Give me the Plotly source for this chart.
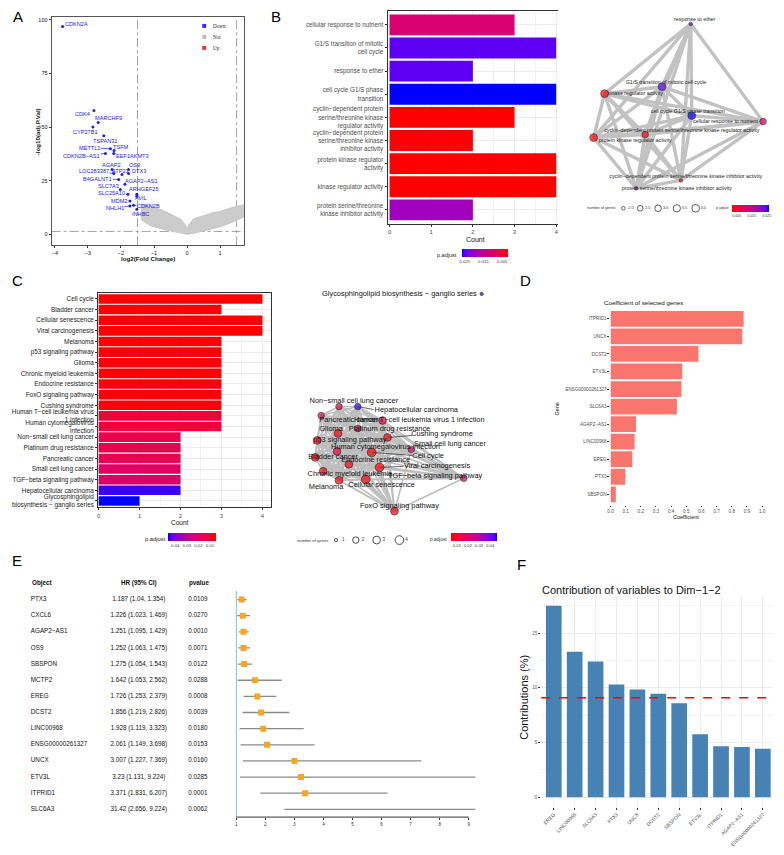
import plotly.graph_objects as go
import math

W, H = 784, 855
OFF = 8                      # page body margin of the browser
FW, FH = W - 2 * OFF, H - 2 * OFF
FONT = "Liberation Sans, Arial, sans-serif"
SERIF = "Liberation Serif, Times New Roman, serif"

# ---------------- Panel A : volcano ----------------
down_genes = ["CDKN2A", "CDK4", "MARCHF9", "CYP27B1", "TSPAN31", "METTL1", "TSFM", "CDKN2B−AS1",
              "EEF1AKMT3", "AGAP2", "OS9", "LOC283387", "ATP23", "DTX3", "B4GALNT1", "AGAP2−AS1",
              "SLC7A3", "ARHGEF25", "SLC25A10", "AVIL", "MDM2", "NHLH1", "CDKN2B", "INHBC"]
down_lfc = [-3.77, -2.82, -2.69, -2.85, -2.52, -2.32, -2.21, -2.47, -2.22, -2.27, -1.77, -2.22,
            -1.97, -1.77, -2.07, -1.88, -2.02, -1.52, -1.79, -1.52, -1.73, -1.73, -1.62, -1.52]
down_logp = [96.9, 57.8, 52.2, 50.1, 46.0, 39.9, 39.1, 37.7, 37.7, 30.2, 30.2, 28.4, 27.9, 28.4,
             25.6, 23.3, 20.9, 18.6, 18.6, 17.7, 15.5, 13.2, 13.5, 11.6]
# outline of the dense cloud of non-significant genes
not_lfc = [-1.4, -1.2, -1.0, -0.8, -0.6, -0.4, -0.2, -0.05, 0.0, 0.05, 0.2, 0.4, 0.6, 0.8, 1.0, 1.2, 1.4, 1.7,
           1.7, 1.4, 1.1, 0.8, 0.5, 0.2, 0.0, -0.2, -0.5, -0.8, -1.1, -1.4]
not_logp = [14, 13.5, 12.5, 11.5, 10, 8.5, 7, 4, 2, 4, 7, 8, 9, 10, 10.5, 11.5, 12.5, 13.5,
            8, 6, 4, 2.8, 1.6, 0.6, 0.1, 0.6, 1.6, 2.8, 4, 7]
fc_cut = 1.5
p_cut = 1.3
# label offsets (pixels) for the repelled labels
lab_dx = [14, -11, 10, -7, 1, -21, 7, -24, 19, -1, 6, -20, -1, 10, -21, 17, -12, 7, -16, 4, -11, -15, 15, 4]
lab_dy = [-3, 4, -4, 5, 5, -1, -3, 3, 3, -5, -5, -2, -3, -2, 0, -3, -3, -5, -1, 2, 0, 2, 1, 5]

# ---------------- Panel B : GO enrichment ----------------
go_terms = ["cellular response to nutrient",
            "G1/S transition of mitotic cell cycle",
            "response to ether",
            "cell cycle G1/S phase transition",
            "cyclin−dependent protein serine/threonine kinase regulator activity",
            "cyclin−dependent protein serine/threonine kinase inhibitor activity",
            "protein kinase regulator activity",
            "kinase regulator activity",
            "protein serine/threonine kinase inhibitor activity"]
go_tick_labels = ["cellular response to nutrient",
                  "G1/S transition of mitotic<br>cell cycle",
                  "response to ether",
                  "cell cycle G1/S phase<br>transition",
                  "cyclin−dependent protein<br>serine/threonine kinase<br>regulator activity",
                  "cyclin−dependent protein<br>serine/threonine kinase<br>inhibitor activity",
                  "protein kinase regulator<br>activity",
                  "kinase regulator activity",
                  "protein serine/threonine<br>kinase inhibitor activity"]
go_count = [3, 4, 2, 4, 3, 2, 4, 4, 2]
go_padj = [0.0115, 0.0249, 0.0249, 0.0266, 0.0021, 0.0022, 0.0020, 0.0020, 0.0197]
go_pmin, go_pmax = 0.0020, 0.0266
# network layout (pixel-like layout units)
go_node_x = [767, 665, 694, 695, 648, 684, 596, 607, 639]
go_node_y = [122, 87, 24, 116, 135, 181, 138, 94, 189]
go_label_x = [729, 669, 698, 691, 685, 689, 638, 638, 680]
go_label_y = [122, 83, 20, 112, 131, 177, 141, 94, 189]
go_size_legend = [2.0, 2.5, 3.0, 3.5, 4.0]

# ---------------- Panel C : KEGG enrichment ----------------
kegg_terms = ["Cell cycle", "Bladder cancer", "Cellular senescence", "Viral carcinogenesis", "Melanoma",
              "p53 signaling pathway", "Glioma", "Chronic myeloid leukemia", "Endocrine resistance",
              "FoxO signaling pathway", "Cushing syndrome", "Human T−cell leukemia virus 1 infection",
              "Human cytomegalovirus infection", "Non−small cell lung cancer", "Platinum drug resistance",
              "Pancreatic cancer", "Small cell lung cancer", "TGF−beta signaling pathway",
              "Hepatocellular carcinoma", "Glycosphingolipid biosynthesis − ganglio series"]
kegg_tick_labels = ["Cell cycle", "Bladder cancer", "Cellular senescence", "Viral carcinogenesis", "Melanoma",
                    "p53 signaling pathway", "Glioma", "Chronic myeloid leukemia", "Endocrine resistance",
                    "FoxO signaling pathway", "Cushing syndrome", "Human T−cell leukemia virus<br>1 infection",
                    "Human cytomegalovirus<br>infection", "Non−small cell lung cancer", "Platinum drug resistance",
                    "Pancreatic cancer", "Small cell lung cancer", "TGF−beta signaling pathway",
                    "Hepatocellular carcinoma", "Glycosphingolipid<br>biosynthesis − ganglio series"]
kegg_count = [4, 3, 4, 4, 3, 3, 3, 3, 3, 3, 3, 3, 3, 2, 2, 2, 2, 2, 2, 1]
kegg_padj = [0.0045, 0.0047, 0.0046, 0.0046, 0.0049, 0.0051, 0.0052, 0.0053, 0.0054, 0.0055, 0.0057,
             0.0112, 0.0114, 0.0145, 0.0147, 0.0150, 0.0185, 0.0188, 0.0443, 0.0460]
kegg_pmin, kegg_pmax = 0.0045, 0.0460
kegg_node_x = [372, 315, 366, 380, 339, 317, 338, 323, 349, 395, 388, 383, 337, 339, 358, 321, 412, 465, 358, 483]
kegg_node_y = [454, 459, 481, 469, 482, 442, 435, 473, 466, 513, 439, 422, 453, 408, 430, 417, 451, 480, 408, 295]
kegg_label_x = [429, 333, 382, 438, 326, 350, 331, 350, 376, 400, 443, 420, 386, 354, 390, 349, 451, 436, 417, 400]
kegg_label_y = [458, 459, 487, 468, 489, 442, 431, 476, 462, 508, 436, 422, 449, 403, 431, 422, 446, 478, 412, 295]
kegg_leaders = {"Hepatocellular carcinoma": (374, 411), "Cushing syndrome": (413, 437),
                "Cell cycle": (413, 457), "Viral carcinogenesis": (404, 468)}
kegg_size_legend = [1, 2, 3, 4]

# ---------------- Panel D : LASSO coefficients ----------------
coef_genes = ["ITPRID1", "UNCX", "DCST2", "ETV3L", "ENSG00000261327", "SLC6A3", "AGAP2−AS1",
              "LINC00968", "EREG", "PTX3", "SBSPON"]
coef_values = [0.878, 0.869, 0.580, 0.473, 0.468, 0.438, 0.168, 0.159, 0.144, 0.098, 0.035]

# ---------------- Panel E : Cox forest ----------------
cox_genes = ["PTX3", "CXCL6", "AGAP2−AS1", "OS9", "SBSPON", "MCTP2", "EREG", "DCST2", "LINC00968",
             "ENSG00000261327", "UNCX", "ETV3L", "ITPRID1", "SLC6A3"]
cox_hr = [1.187, 1.226, 1.251, 1.252, 1.275, 1.642, 1.726, 1.856, 1.928, 2.061, 3.007, 3.23, 3.371, 31.42]
cox_lo = [1.04, 1.023, 1.095, 1.063, 1.054, 1.053, 1.253, 1.219, 1.119, 1.149, 1.227, 1.131, 1.831, 2.656]
cox_hi = [1.354, 1.469, 1.429, 1.475, 1.543, 2.562, 2.379, 2.826, 3.323, 3.698, 7.369, 9.224, 6.207, 9.224]
cox_p = [0.0109, 0.0270, 0.0010, 0.0071, 0.0122, 0.0288, 0.0008, 0.0039, 0.0180, 0.0153, 0.0160,
         0.0285, 0.0001, 0.0062]

# ---------------- Panel F : PCA contributions ----------------
contrib_vars = ["EREG", "LINC00968", "SLC6A3", "PTX3", "UNCX", "DCST2", "SBSPON", "ETV3L", "ITPRID1",
                "AGAP2−AS1", "ENSG00000261327"]
contrib_values = [17.5, 13.3, 12.4, 10.3, 9.85, 9.45, 8.6, 5.75, 4.65, 4.6, 4.42]

# ================= helpers (page pixels -> figure fractions) =================
def fxp(p):
    return min(max((p - OFF) / FW, 0.0), 1.0)

def fyp(p):
    return min(max(1 - (p - OFF) / FH, 0.0), 1.0)

def xd(a, b):
    return [fxp(a), fxp(b)]

def yd(t, b):
    return [fyp(b), fyp(t)]

annotations = []
shapes = []

def txt(x, y, s, size, color="#000000", xanchor="center", yanchor="middle", angle=0, family=FONT):
    annotations.append(dict(x=fxp(x), y=fyp(y), xref="paper", yref="paper", text=s, showarrow=False,
                            font=dict(size=size, color=color, family=family), xanchor=xanchor,
                            yanchor=yanchor, textangle=angle, borderpad=0))

# Lab-like red -> blue gradient (ggplot style)
RB = [[0, "#FF0000"], [0.125, "#F40031"], [0.25, "#E80050"], [0.375, "#DA006C"], [0.5, "#CA0088"],
      [0.625, "#B500A5"], [0.75, "#9A00C3"], [0.875, "#7600E3"], [0.9375, "#5A00F5"], [1, "#0000FF"]]
BR = [[1 - s, c] for s, c in reversed(RB)]

fig = go.Figure()

# ================= A =================
fig.add_trace(go.Scatter(x=not_lfc, y=not_logp, mode="lines", fill="toself", fillcolor="#CCCCCC",
                         line=dict(color="#C9C9C9", width=1.5), xaxis="x", yaxis="y", hoverinfo="skip"))
fig.add_trace(go.Scatter(x=down_lfc, y=down_logp, mode="markers", marker=dict(color="#1E1EF5", size=3),
                         xaxis="x", yaxis="y", hoverinfo="skip"))
for g, x, y, dx, dy in zip(down_genes, down_lfc, down_logp, lab_dx, lab_dy):
    vis = abs(dx) > 12 or abs(dy) > 7
    annotations.append(dict(x=x, y=y, xref="x", yref="y", text=g, showarrow=True, ax=dx, ay=dy,
                            arrowhead=0, arrowwidth=0.7, standoff=0,
                            arrowcolor="#2020F0" if vis else "rgba(0,0,0,0)",
                            font=dict(size=5.6, color="#2020F0", family=FONT), borderpad=0))
for xv in (-fc_cut, fc_cut):
    shapes.append(dict(type="line", xref="x", yref="y domain", x0=xv, x1=xv, y0=0, y1=1,
                       line=dict(color="#9A9A9A", width=0.9, dash="dashdot"), layer="below"))
shapes.append(dict(type="line", xref="x domain", yref="y", x0=0, x1=1, y0=p_cut, y1=p_cut,
                   line=dict(color="#9A9A9A", width=0.9, dash="dashdot"), layer="below"))
# legend
for yy, col, lab in [(26, "#3030F0", "Down"), (37, "#BBBBBB", "Not"), (48, "#F03030", "Up")]:
    shapes.append(dict(type="rect", xref="paper", yref="paper", x0=fxp(201), x1=fxp(205),
                       y0=fyp(yy + 2), y1=fyp(yy - 2), fillcolor=col, line=dict(width=0)))
    txt(211, yy, lab, 5.2, "#222222", xanchor="left", family=SERIF)

# ================= B bar =================
fig.add_trace(go.Bar(x=go_count, y=go_tick_labels, orientation="h", width=0.9,
                     marker=dict(color=[-p for p in go_padj], coloraxis="coloraxis", line=dict(width=0)),
                     xaxis="x2", yaxis="y2", hoverinfo="skip"))

# ================= B network =================
ex, ey = [], []
n = len(go_terms)
for i in range(n):
    for j in range(i + 1, n):
        ex += [go_node_x[i], go_node_x[j], None]
        ey += [go_node_y[i], go_node_y[j], None]
fig.add_trace(go.Scatter(x=ex, y=ey, mode="lines", line=dict(color="#C2C2C2", width=3.4),
                         xaxis="x3", yaxis="y3", hoverinfo="skip"))

def go_size(c):
    return 3.5 + 4.3 * math.sqrt((c - 2) / 2)

fig.add_trace(go.Scatter(x=go_node_x, y=go_node_y, mode="markers",
                         marker=dict(size=[go_size(c) for c in go_count], color=go_padj, coloraxis="coloraxis2",
                                     line=dict(color="#000000", width=0.7)),
                         xaxis="x3", yaxis="y3", hoverinfo="skip"))
fig.add_trace(go.Scatter(x=go_label_x, y=go_label_y, mode="text", text=go_terms, cliponaxis=False,
                         textfont=dict(size=5.3, color="#222222", family=FONT),
                         xaxis="x3", yaxis="y3", hoverinfo="skip"))
leg_x = [626, 643, 661, 680, 699]
fig.add_trace(go.Scatter(x=leg_x, y=[209] * 5, mode="markers",
                         marker=dict(size=[go_size(v) for v in go_size_legend], color="rgba(0,0,0,0)",
                                     line=dict(color="#000000", width=0.9)),
                         xaxis="x3", yaxis="y3", hoverinfo="skip"))
fig.add_trace(go.Scatter(x=[x + 5 for x in leg_x], y=[209] * 5, mode="text", textposition="middle right",
                         text=[f"{v:.1f}" for v in go_size_legend], cliponaxis=False,
                         textfont=dict(size=3.8, color="#333333", family=FONT),
                         xaxis="x3", yaxis="y3", hoverinfo="skip"))
txt(620, 209, "number of genes", 3.8, "#333333", xanchor="right")
txt(734, 209, "p.adjust", 3.6, "#333333", xanchor="right")

# ================= C bar =================
fig.add_trace(go.Bar(x=kegg_count, y=kegg_tick_labels, orientation="h", width=0.9,
                     marker=dict(color=[-p for p in kegg_padj], coloraxis="coloraxis3", line=dict(width=0)),
                     xaxis="x4", yaxis="y4", hoverinfo="skip"))

# ================= C network =================
cl = [i for i, c in enumerate(kegg_count) if c >= 2]
ex, ey = [], []
for a in range(len(cl)):
    for b in range(a + 1, len(cl)):
        i, j = cl[a], cl[b]
        ex += [kegg_node_x[i], kegg_node_x[j], None]
        ey += [kegg_node_y[i], kegg_node_y[j], None]
fig.add_trace(go.Scatter(x=ex, y=ey, mode="lines", line=dict(color="#BEBEBE", width=1.6),
                         xaxis="x5", yaxis="y5", hoverinfo="skip"))
lx, ly = [], []
for term, (tx, ty) in kegg_leaders.items():
    k = kegg_terms.index(term)
    lx += [kegg_node_x[k], tx, None]
    ly += [kegg_node_y[k], ty, None]
fig.add_trace(go.Scatter(x=lx, y=ly, mode="lines", line=dict(color="#222222", width=0.7),
                         xaxis="x5", yaxis="y5", hoverinfo="skip"))

def kegg_size(c):
    return 3.3 + 5.4 * math.sqrt((c - 1) / 3)

fig.add_trace(go.Scatter(x=kegg_node_x, y=kegg_node_y, mode="markers",
                         marker=dict(size=[kegg_size(c) for c in kegg_count], color=kegg_padj,
                                     coloraxis="coloraxis4", line=dict(color="#000000", width=0.8)),
                         xaxis="x5", yaxis="y5", hoverinfo="skip"))
fig.add_trace(go.Scatter(x=kegg_label_x, y=kegg_label_y, mode="text", text=kegg_terms, cliponaxis=False,
                         textfont=dict(size=7.4, color="#111111", family=FONT),
                         xaxis="x5", yaxis="y5", hoverinfo="skip"))
leg_x = [336, 356, 377, 400]
fig.add_trace(go.Scatter(x=leg_x, y=[542] * 4, mode="markers",
                         marker=dict(size=[kegg_size(v) for v in kegg_size_legend], color="rgba(0,0,0,0)",
                                     line=dict(color="#000000", width=1)),
                         xaxis="x5", yaxis="y5", hoverinfo="skip"))
fig.add_trace(go.Scatter(x=[x + 6 for x in leg_x], y=[542] * 4, mode="text", textposition="middle right",
                         text=[str(v) for v in kegg_size_legend], cliponaxis=False,
                         textfont=dict(size=4.5, color="#333333", family=FONT),
                         xaxis="x5", yaxis="y5", hoverinfo="skip"))
txt(329, 542, "number of genes", 4.2, "#333333", xanchor="right")
txt(449, 541, "p.adjust", 4.8, "#333333", xanchor="right")

# ================= D =================
fig.add_trace(go.Bar(x=coef_values, y=coef_genes, orientation="h", width=0.9,
                     marker=dict(color="#F8766D", line=dict(width=0)),
                     xaxis="x6", yaxis="y6", hoverinfo="skip"))
txt(605, 304, "Coefficient of selected genes", 6.2, "#111111", xanchor="left")
txt(689, 519, "Coefficient", 5.5, "#111111")
txt(559, 410, "Gene", 5.5, "#111111", angle=-90)

# ================= E =================
hr_text = [f"{h} ({l}, {u})" for h, l, u in zip(cox_hr, cox_lo, cox_hi)]
p_text = [f"{p:.4f}" for p in cox_p]
fig.add_trace(go.Scatter(x=[28] * len(cox_genes), y=cox_genes, mode="text", text=cox_genes,
                         textposition="middle right", textfont=dict(size=6.3, color="#111111", family=FONT),
                         cliponaxis=False, xaxis="x7", yaxis="y7", hoverinfo="skip"))
fig.add_trace(go.Scatter(x=[137] * len(cox_genes), y=cox_genes, mode="text", text=hr_text,
                         textposition="middle center", textfont=dict(size=6.3, color="#111111", family=FONT),
                         cliponaxis=False, xaxis="x7", yaxis="y7", hoverinfo="skip"))
fig.add_trace(go.Scatter(x=[187] * len(cox_genes), y=cox_genes, mode="text", text=p_text,
                         textposition="middle right", textfont=dict(size=6.3, color="#111111", family=FONT),
                         cliponaxis=False, xaxis="x7", yaxis="y7", hoverinfo="skip"))
txt(28, 585, "<b>Object</b>", 6.3, "#111111", xanchor="left")
txt(137, 585, "<b>HR (95% CI)</b>", 6.3, "#111111")
txt(187, 585, "<b>pvalue</b>", 6.3, "#111111", xanchor="left")
cx, cy = [], []
for g, l, u in zip(cox_genes, cox_lo, cox_hi):
    cx += [l, u, None]
    cy += [g, g, None]
fig.add_trace(go.Scatter(x=cx, y=cy, mode="lines", line=dict(color="#8A8A8A", width=1.3),
                         xaxis="x8", yaxis="y8", hoverinfo="skip"))
fig.add_trace(go.Scatter(x=cox_hr, y=cox_genes, mode="markers",
                         marker=dict(symbol="square", size=6, color="#F5A623", line=dict(width=0)),
                         xaxis="x8", yaxis="y8", hoverinfo="skip"))
shapes.append(dict(type="line", xref="x8", yref="paper", x0=1, x1=1, y0=fyp(820), y1=fyp(593),
                   line=dict(color="#8FCFDD", width=1.6)))
shapes.append(dict(type="line", xref="x8", yref="y8 domain", x0=1, x1=9, y0=0, y1=0,
                   line=dict(color="#333333", width=1)))

# ================= F =================
fig.add_trace(go.Bar(x=contrib_vars, y=contrib_values, width=0.75,
                     marker=dict(color="#4682B4", line=dict(width=0)),
                     xaxis="x9", yaxis="y9", hoverinfo="skip"))
exp_contrib = 100 / len(contrib_vars)
shapes.append(dict(type="line", xref="x9 domain", yref="y9", x0=0, x1=1, y0=exp_contrib, y1=exp_contrib,
                   line=dict(color="#FF0000", width=1.6, dash="dash")))
txt(543, 592, "Contribution of variables to Dim−1−2", 11, "#111111", xanchor="left")
txt(525, 700, "Contributions (%)", 11, "#111111", angle=-90)

# ================= axis titles / letters =================
txt(146, 259, "<b>log2(Fold Change)</b>", 6.2, "#111111")
txt(35, 132, "<b>-log10(adj.P.Val)</b>", 6.2, "#111111", angle=-90)
txt(477, 240, "Count", 7, "#111111")
txt(179, 524, "Count", 6.5, "#111111")
txt(459, 256, "p.adjust", 5.5, "#222222", xanchor="right")
txt(165, 541, "p.adjust", 5.8, "#222222", xanchor="right")
for lab, x, y in [("A", 15, 17), ("B", 275, 17), ("C", 15, 281), ("D", 527, 281), ("E", 14, 562), ("F", 523, 566)]:
    txt(x, y, lab, 15, "#000000")

# ================= layout =================
def axis(domain, rng, anchor, **kw):
    d = dict(domain=domain, range=rng, anchor=anchor, zeroline=False, showgrid=False)
    d.update(kw)
    return d

tick_small = dict(ticks="outside", ticklen=2, tickwidth=0.8, tickcolor="#333333")
gridc = "#EBEBEB"

def cbar(xc, ytop, length, thick, vals, texts, size):
    return dict(orientation="h", x=fxp(xc), xanchor="center", y=fyp(ytop), yanchor="top",
                len=length / FW, lenmode="fraction", thickness=thick, thicknessmode="pixels",
                outlinewidth=0, tickvals=vals, ticktext=texts, ticks="", xpad=0, ypad=0,
                tickfont=dict(size=size, color="#333333", family=FONT))

# F: keep the bar spacing close to the reference while staying inside the page
f_left, f_right = 543.1, 776.0
f_step = 21.1
f_rng = [-0.6, -0.6 + (f_right - f_left) / f_step]

layout = dict(
    width=FW, height=FH, margin=dict(l=0, r=0, t=0, b=0), paper_bgcolor="white", plot_bgcolor="white",
    showlegend=False, font=dict(family=FONT),
    # A
    xaxis=axis(xd(49, 243), [-4.1, 1.72], "y", tickvals=[-4, -3, -2, -1, 0, 1],
               showline=True, mirror=True, linecolor="#555555", linewidth=1,
               tickfont=dict(size=5.5, color="#111111"), **tick_small),
    yaxis=axis(yd(17, 246), [-5.1, 101.4], "x", tickvals=[0, 25, 50, 75, 100],
               showline=True, mirror=True, linecolor="#555555", linewidth=1,
               tickfont=dict(size=5.5, color="#111111"), **tick_small),
    # B bar
    xaxis2=axis(xd(388, 567), [-0.05, 4.21], "y2", tickvals=[0, 1, 2, 3, 4], showgrid=True, gridcolor=gridc,
                minor=dict(dtick=0.5, tick0=0, showgrid=True, gridcolor="#F2F2F2"),
                showline=True, mirror=True, linecolor="#333333", linewidth=1,
                tickfont=dict(size=6, color="#4D4D4D"), **tick_small),
    yaxis2=axis(yd(11, 224.5), [8.6, -0.6], "x2", type="category", categoryorder="array",
                categoryarray=go_tick_labels, showgrid=True, gridcolor=gridc,
                showline=True, mirror=True, linecolor="#333333", linewidth=1,
                tickfont=dict(size=6.3, color="#4D4D4D"), **tick_small),
    # B network
    xaxis3=axis(xd(560, 776), [560, 776], "y3", visible=False),
    yaxis3=axis(yd(8, 230), [230, 8], "x3", visible=False),
    # C bar
    xaxis4=axis(xd(96, 270), [-0.01, 4.2], "y4", tickvals=[0, 1, 2, 3, 4], showgrid=True, gridcolor=gridc,
                minor=dict(dtick=0.5, tick0=0, showgrid=True, gridcolor="#F2F2F2"),
                showline=True, mirror=True, linecolor="#333333", linewidth=1,
                tickfont=dict(size=6, color="#4D4D4D"), **tick_small),
    yaxis4=axis(yd(293.6, 509.1), [19.6, -0.6], "x4", type="category", categoryorder="array",
                categoryarray=kegg_tick_labels, showgrid=True, gridcolor=gridc,
                showline=True, mirror=True, linecolor="#333333", linewidth=1,
                tickfont=dict(size=6.4, color="#222222"), **tick_small),
    # C network
    xaxis5=axis(xd(280, 520), [280, 520], "y5", visible=False),
    yaxis5=axis(yd(285, 560), [560, 285], "x5", visible=False),
    # D
    xaxis6=axis(xd(613, 766), [0, 1.0], "y6", tickvals=[i / 10 for i in range(11)], tickformat=".1f",
                tickfont=dict(size=4.6, color="#4D4D4D"), ticks="outside", ticklen=1.5, tickwidth=0.8,
                tickcolor="#333333"),
    yaxis6=axis(yd(309.4, 506.6), [10.6, -0.6], "x6", type="category", categoryorder="array",
                categoryarray=coef_genes, tickfont=dict(size=4.6, color="#4D4D4D"), **tick_small),
    # E table
    xaxis7=axis(xd(8, 232), [8, 232], "y7", visible=False),
    yaxis7=axis(yd(590, 820), [13.48, -0.72], "x7", type="category", categoryorder="array",
                categoryarray=cox_genes, visible=False),
    # E forest
    xaxis8=axis(xd(234.7, 477.3), [0.98, 9.25], "y8", tickvals=list(range(1, 10)),
                tickfont=dict(size=4.6, color="#333333"), **tick_small),
    yaxis8=axis(yd(590, 820), [13.48, -0.72], "x8", type="category", categoryorder="array",
                categoryarray=cox_genes, visible=False),
    # F
    xaxis9=axis(xd(f_left, f_right), f_rng, "y9", type="category", categoryorder="array",
                categoryarray=contrib_vars, showgrid=True, gridcolor=gridc, tickangle=-45,
                tickfont=dict(size=5, color="#4D4D4D"), **tick_small),
    yaxis9=axis(yd(598.4, 809.6), [-0.875, 18.375], "x9", tickvals=[0, 5, 10, 15], showgrid=True,
                gridcolor=gridc, minor=dict(dtick=2.5, tick0=0, showgrid=True, gridcolor="#F3F3F3"),
                tickfont=dict(size=4.6, color="#4D4D4D"), **tick_small),
    coloraxis=dict(colorscale=BR, cmin=-go_pmax, cmax=-go_pmin,
                   colorbar=cbar(486, 250, 46, 8, [-0.025, -0.015, -0.005], ["0.025", "0.015", "0.005"], 4.3)),
    coloraxis2=dict(colorscale=RB, cmin=go_pmin, cmax=go_pmax,
                    colorbar=cbar(754.5, 206, 37, 7, [0.005, 0.015, 0.025], ["0.005", "0.015", "0.025"], 3.6)),
    coloraxis3=dict(colorscale=BR, cmin=-kegg_pmax, cmax=-kegg_pmin,
                    colorbar=cbar(191, 535, 48, 8, [-0.04, -0.03, -0.02, -0.01],
                                  ["0.04", "0.03", "0.02", "0.01"], 4.3)),
    coloraxis4=dict(colorscale=RB, cmin=kegg_pmin, cmax=kegg_pmax,
                    colorbar=cbar(475, 535, 46, 8, [0.01, 0.02, 0.03, 0.04],
                                  ["0.01", "0.02", "0.03", "0.04"], 4.3)),
    annotations=annotations,
    shapes=shapes,
)
fig.update_layout(**layout)
fig.write_html("out.html")
